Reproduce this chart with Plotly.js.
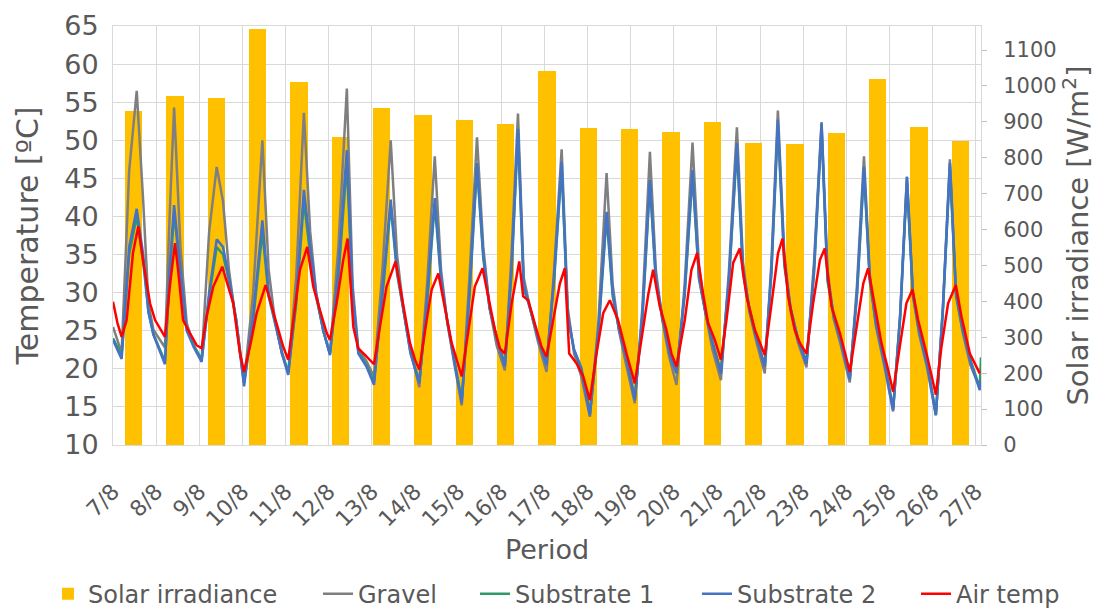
<!DOCTYPE html>
<html>
<head>
<meta charset="utf-8">
<script src="https://cdn.plot.ly/plotly-3.0.1.min.js"></script>
<style>html,body{margin:0;padding:0;background:#fff;}#chart{width:1099px;height:610px;}</style>
</head>
<body>
<div id="chart"></div>
<script>
// ---- Data ----
var dayLabels = ['7/8','8/8','9/8','10/8','11/8','12/8','13/8','14/8','15/8','16/8','17/8',
                 '18/8','19/8','20/8','21/8','22/8','23/8','24/8','25/8','26/8','27/8'];

// daily solar irradiance bars (W/m2), one per category
var solarCategories = dayLabels.slice();
var solarValues = [931, 971, 967, 1160, 1011, 858, 939, 920, 906, 894, 1041,
                   884, 880, 872, 899, 840, 837, 869, 1019, 887, 848];

// substrate / gravel sample times (hours since 7/8 00:00)
var subHours = [0, 4.8, 9.0, 13.2, 16.8, 19.7, 22.5,
  28.9, 31.5, 34.0, 37.5, 41.0, 45.0,
  49.3, 53.5, 57.7, 61.2, 64.5, 68.5,
  72.9, 78.0, 83.1, 86.6, 90.0, 94.0,
  97.5, 101.9, 106.2, 109.7, 113.0, 117.0,
  120.7, 125.4, 130.1, 133.3, 136.5, 141.0,
  145.2, 149.9, 154.5, 158.0, 161.5, 165.5,
  170.4, 174.7, 179.0, 182.5, 186.0, 190.0,
  194.0, 198.3, 202.5, 206.0, 209.5, 213.5,
  218.0, 221.7, 225.3, 228.5, 232.0, 236.5,
  241.2, 245.4, 249.6, 253.0, 256.5, 260.5,
  265.3, 270.0, 274.6, 278.0, 281.5, 285.5,
  290.3, 294.5, 298.7, 302.0, 305.5, 309.5,
  313.5, 318.0, 322.4, 326.0, 329.5, 333.5,
  338.2, 342.7, 347.1, 350.5, 354.0, 358.0,
  362.6, 366.3, 369.9, 373.5, 377.0, 381.0,
  385.8, 390.0, 394.2, 397.5, 401.0, 405.0,
  409.9, 413.9, 417.8, 421.0, 424.5, 429.0,
  434.0, 437.9, 441.7, 445.0, 448.5, 453.0,
  457.8, 461.7, 465.6, 469.0, 472.5, 477.0,
  482.2, 482.9];

var gravel = [25.5, 22.1, 46, 56.5, 42, 28.6, 25.1,
  22.8, 40, 54.3, 36, 26, 23,
  21.2, 38, 46.5, 42, 33, 26,
  18.2, 30, 50, 33, 26.5, 22,
  19.5, 32, 53.6, 38, 30, 25,
  22, 36, 56.8, 31, 22.5, 21,
  19, 33, 50, 35, 28, 22.5,
  17.6, 31, 47.9, 33, 26, 20.5,
  15.2, 32, 50.4, 36, 28, 23,
  19.8, 35, 53.5, 32, 28, 23.5,
  19.6, 33, 48.8, 28, 22, 19,
  13.7, 26, 45.7, 31, 25, 20.5,
  15.5, 28, 48.5, 33, 26.5, 21.5,
  17.9, 31, 49.7, 33.5, 27.5, 22.5,
  18.5, 33, 51.7, 34, 27.5, 23.5,
  19.4, 34, 53.9, 35, 27.5, 23.5,
  20.2, 34, 52.4, 33, 26.5, 23,
  18.2, 31, 47.9, 32.5, 25.5, 20.5,
  14.4, 27, 45.2, 30, 24.5, 20,
  13.9, 28, 47.5, 30, 25, 20.5,
  17.5, 18];

var substrate1 = [24, 21.8, 35, 40, 34, 27.5, 24.5,
  21, 32, 40.5, 32.5, 25.2, 23,
  21.2, 29.5, 36, 35, 31.5, 26.5,
  18.2, 26.5, 38, 29.5, 26.2, 22.2,
  19.5, 28.5, 42, 35, 29.5, 25,
  22, 32, 47, 29.5, 22.2, 20.5,
  18.3, 29.5, 41.5, 32.5, 27.8, 22.2,
  18.4, 28.5, 41.7, 31.5, 26.2, 21.2,
  15.9, 29.5, 46.5, 34.5, 28, 24,
  20.6, 32.5, 51, 30.5, 28, 24,
  20.8, 31.5, 46.5, 27, 22.5, 20.2,
  14.2, 24.5, 40, 29.5, 25.2, 21.5,
  16.2, 26.5, 44.3, 31.5, 26.8, 22.2,
  19.6, 29.5, 45.5, 31.8, 27.5, 23.5,
  19.6, 31.5, 49, 32.5, 27.8, 24,
  20.5, 32.5, 52, 33.5, 27.8, 24,
  20.9, 32.5, 51.5, 31.5, 26.8, 23.5,
  18.8, 29.5, 46, 31.5, 25.8, 21.2,
  14.8, 26.5, 44.5, 29.5, 24.8, 20.7,
  14.1, 27.5, 46.5, 29.5, 25.3, 21.2,
  17.5, 21.5];

var substrate2 = [23.8, 21.3, 36, 41, 35, 27.5, 24.5,
  20.6, 33, 41.5, 33, 25, 22.8,
  20.9, 30, 37, 36, 32, 26.5,
  17.7, 27, 39.5, 30, 26.2, 22,
  19.2, 29, 43.5, 36, 30, 25,
  21.8, 33, 48.7, 30, 22, 20.3,
  17.9, 30, 42.2, 33, 27.8, 22,
  18.1, 29, 42.4, 32, 26.2, 21,
  15.5, 30, 47, 35, 28, 24,
  20.3, 33, 51.5, 31, 28, 24,
  20.5, 32, 47.2, 27, 22.5, 20,
  13.9, 25, 40.6, 30, 25.2, 21.5,
  15.9, 27, 44.8, 32, 27, 22,
  19.4, 30, 46.1, 32, 27.5, 23.5,
  19.4, 32, 49.6, 33, 28, 24,
  20.3, 33, 52.7, 34, 28, 24,
  20.7, 33, 52.2, 32, 27, 23.5,
  18.6, 30, 46.5, 32, 26, 21,
  14.6, 27, 45.2, 30, 25, 20.5,
  13.9, 28, 47, 30, 25.5, 21,
  17.2, 18.5];

// air temperature sample times (hours since 7/8 00:00) and values
var airHours = [0, 2.5, 4.8, 7.6, 11.1, 14.1, 16.9, 20.6, 23.4,
  28.9, 31.7, 34.5, 36.2, 39, 41.8, 46.5,
  49.3, 52.1, 55.8, 60.8, 64.1, 66.9, 70.6,
  72.9, 76.2, 79.9, 84.9, 87.3, 91, 94.7,
  97.5, 100.3, 104, 108.1, 111.4, 115.1, 118.9,
  120.7, 124.4, 128.1, 130.5, 133.7, 136.4, 141.1,
  145.2, 148.5, 152.2, 157.2, 161.5, 165.2, 168,
  170.4, 174.5, 177.3, 181, 184.7, 188.4,
  194, 197.6, 201.3, 205.6, 208.7, 212.5, 215.2,
  218, 221.8, 226, 228.2, 231, 235.7, 238.4,
  241.2, 244.9, 248.6, 251.4, 253.8, 257.9, 261.6,
  265.3, 269, 272.7, 276.4, 281, 285.7,
  290.3, 295, 297.8, 300.5, 304.2, 307.9, 310.7,
  313.5, 318.1, 321.8, 325, 328.3, 331.1, 334.8,
  338.2, 341.3, 345, 348.7, 352.5, 357.1, 359.9,
  362.6, 366.4, 370, 372.5, 375.6, 379.3, 382.1,
  385.8, 389.5, 393.3, 396, 399.7, 404.4,
  409.9, 413.6, 417.4, 420.1, 423.8, 427.5, 431.2,
  434, 437.7, 441.4, 444.8, 447.9, 452.6,
  457.8, 460.9, 464.6, 468.9, 472, 476.7, 482.2];

var airTemp = [28.8, 26.0, 24.2, 26.4, 35.2, 38.7, 33.9, 28.6, 26.4,
  24.2, 31, 36.5, 33, 26.4, 25.1, 23.1,
  22.7, 26.9, 30.8, 33.4, 30.8, 28.6, 22.1,
  19.6, 22.9, 27.3, 31, 29, 26, 22.9,
  21.2, 26.4, 33, 36, 30.8, 27.7, 24.7,
  23.8, 28.6, 34.3, 37.1, 25.5, 22.7, 21.6,
  20.6, 25.5, 30.8, 34.1, 28.6, 23.4, 21.2,
  19.9, 26.4, 30.4, 32.5, 27.7, 23.4,
  19, 25.1, 30.8, 33.2, 29.5, 25.1, 22.7,
  22, 28.6, 34.1, 29.5, 29, 25.1, 22.9,
  21.6, 26.4, 31.2, 33.2, 22, 20.7, 19,
  15.9, 22, 27.3, 29, 26.4, 22,
  18.1, 25.1, 29.8, 33, 28.2, 25.1, 22,
  20.3, 26.4, 33, 35.2, 29.8, 26, 23.8,
  21.2, 26.4, 33.9, 35.8, 29.5, 25.1, 23.4,
  21.8, 28.6, 35.2, 37.1, 29.5, 25.1, 23.4,
  22, 28.6, 34.3, 35.8, 28.2, 24.7,
  19.6, 25.1, 31.2, 33.2, 28.2, 23.4, 19.9,
  17, 22.9, 28.6, 30.4, 26.4, 22,
  16.6, 22.9, 28.6, 31, 26.9, 22, 19.4];

[gravel, substrate1, substrate2].forEach(function (a, i) {
  if (a.length !== subHours.length) throw new Error('series ' + i + ' length ' + a.length + ' vs ' + subHours.length);
});
if (airTemp.length !== airHours.length) throw new Error('air length ' + airTemp.length + ' vs ' + airHours.length);

// ---- Chart ----
var FONT = 'DejaVu Sans, Verdana, sans-serif';
var TXT = '#595959';
var GRID = '#d9d9d9';

var tickVals = dayLabels.map(function (_, i) { return i * 24; });

var traces = [
  {type: 'bar', name: 'Solar irradiance', x: solarCategories, y: solarValues,
   xaxis: 'x', yaxis: 'y', marker: {color: '#ffc000'}, width: 0.42, legend: 'legend'},
  {type: 'scatter', mode: 'lines', name: 'Gravel', x: subHours, y: gravel,
   xaxis: 'x2', yaxis: 'y2', line: {color: '#7f7f7f', width: 2.5}, legend: 'legend2'},
  {type: 'scatter', mode: 'lines', name: 'Substrate 1', x: subHours, y: substrate1,
   xaxis: 'x2', yaxis: 'y2', line: {color: '#2e9a6b', width: 2.5}, legend: 'legend3'},
  {type: 'scatter', mode: 'lines', name: 'Substrate 2', x: subHours, y: substrate2,
   xaxis: 'x2', yaxis: 'y2', line: {color: '#4472c4', width: 2.5}, legend: 'legend4'},
  {type: 'scatter', mode: 'lines', name: 'Air temp', x: airHours, y: airTemp,
   xaxis: 'x2', yaxis: 'y2', line: {color: '#ff0000', width: 2.5}, legend: 'legend5'}
];

function leg(px) {
  return {orientation: 'h', x: (px - 113) / 868, xanchor: 'left', y: -0.356, yanchor: 'middle',
          font: {size: 24, color: TXT, family: FONT}, bgcolor: 'rgba(0,0,0,0)', borderwidth: 0};
}

var layout = {
  width: 1099, height: 610,
  margin: {l: 113, r: 118, t: 26, b: 165, autoexpand: false},
  paper_bgcolor: '#fff', plot_bgcolor: '#fff',
  font: {family: FONT, color: TXT},
  showlegend: true,
  legend: leg(48), legend2: leg(318), legend3: leg(475), legend4: leg(697), legend5: leg(916),
  bargap: 0,
  xaxis: {type: 'category', range: [-0.5, 20.5], showticklabels: false, ticks: '',
          showgrid: false, zeroline: false, showline: false, fixedrange: true},
  yaxis: {side: 'right', range: [0, 1167], dtick: 100, tick0: 0, showgrid: false, zeroline: false,
          ticks: 'outside', ticklen: 5, tickcolor: '#bfbfbf', showline: true, linecolor: GRID,
          tickfont: {size: 21, color: TXT}, ticklabelstandoff: 12,
          title: {text: 'Solar irradiance [W/m<sup>2</sup>]', font: {size: 29, color: TXT}, standoff: 12}},
  xaxis2: {overlaying: 'x', anchor: 'y2', range: [0, 482.9], tickvals: tickVals, ticktext: dayLabels,
           tickangle: -45, tickfont: {size: 22, color: TXT}, ticks: '', ticklabelstandoff: 24,
           showgrid: true, gridcolor: GRID, gridwidth: 1, zeroline: false,
           showline: true, linecolor: GRID, linewidth: 1, mirror: true,
           title: {text: 'Period', font: {size: 27, color: TXT}, standoff: 9}},
  yaxis2: {overlaying: 'y', side: 'left', range: [10, 65], dtick: 5, tick0: 10,
           showgrid: true, gridcolor: GRID, gridwidth: 1, zeroline: false,
           showline: true, linecolor: GRID, linewidth: 1,
           tickfont: {size: 27, color: TXT}, ticks: '', ticklabelstandoff: 8,
           title: {text: 'Temperature [ºC]', font: {size: 30, color: TXT}, standoff: 16}}
};

Plotly.newPlot('chart', traces, layout, {displayModeBar: false, staticPlot: true});
</script>
</body>
</html>
